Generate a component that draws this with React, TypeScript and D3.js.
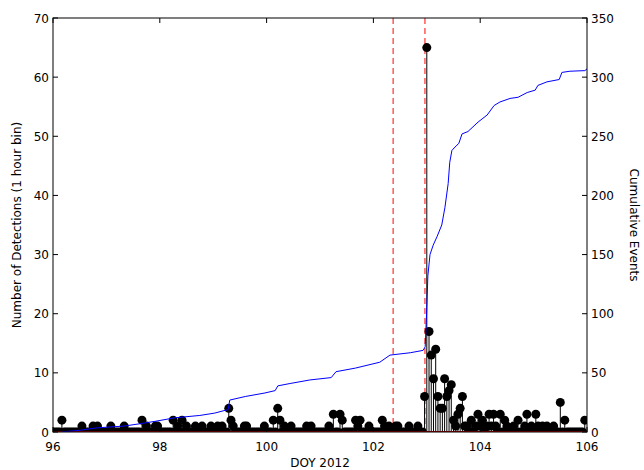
import React from "react";
import * as d3 from "d3";

// Hourly detection counts (hour index from DOY 96.0, value); all other bins are 0
const detHours = [4, 13, 18, 20, 26, 32, 40, 42, 46, 47, 54, 56, 58, 60, 64, 67, 71, 74, 76, 79, 80, 81, 86, 87, 95, 99, 101, 102, 104, 107, 114, 116, 124, 126, 129, 130, 136, 137, 138, 142, 148, 149, 151, 154, 155, 160, 164,
  167, 168, 169, 170, 171, 172, 173, 174, 175, 176, 177, 178, 179, 180, 181, 182, 183, 184, 185, 186, 188, 190, 191, 192, 193, 195, 196, 197, 198, 199, 201, 203, 204, 207, 209, 212, 213, 215, 217, 218, 220, 222, 225, 228, 230, 239];
const detValues = [2, 1, 1, 1, 1, 1, 2, 1, 1, 1, 2, 1, 2, 1, 1, 1, 1, 1, 1, 4, 2, 1, 1, 1, 1, 2, 4, 2, 1, 1, 1, 1, 1, 3, 3, 2, 2, 1, 2, 1, 2, 1, 1, 1, 1, 1, 1,
  6, 65, 17, 13, 9, 14, 6, 4, 4, 9, 6, 7, 8, 2, 1, 3, 4, 6, 1, 1, 2, 1, 3, 1, 2, 1, 3, 1, 3, 1, 3, 2, 1, 1, 2, 1, 3, 1, 3, 1, 1, 1, 1, 5, 2, 2];
const nBins = 240;

// Cumulative events curve
const cumDoy = [96.15, 96.51, 96.82, 97.33, 97.63, 97.91, 98.28, 98.75, 99.03, 99.28, 99.31, 99.60, 99.97, 100.16, 100.21, 100.44, 100.81, 101.21, 101.30, 101.66, 102.12, 102.31, 102.69, 102.93, 102.97, 103.00, 103.02, 103.06, 103.12, 103.19, 103.28, 103.34, 103.40, 103.43, 103.47, 103.53, 103.60, 103.66, 103.77, 103.96, 104.13, 104.26, 104.37, 104.56, 104.71, 104.88, 105.03, 105.08, 105.25, 105.48, 105.53, 105.68, 105.96, 106.0];
const cumValues = [0, 1.5, 3.5, 5, 7, 9, 12, 14, 16, 19, 27, 30, 33, 35, 39, 41, 44, 46, 51, 54, 59, 65, 67, 69, 72, 105, 132, 150, 158, 165, 175, 190, 210, 228, 238, 241, 244, 252, 254, 262, 268, 276, 279, 282, 283, 287, 289, 293, 296, 298, 304, 305, 305.5, 307];

const eventLines = [102.37, 102.965];
const xTicks = [96, 98, 100, 102, 104, 106];
const yLeftTicks = [0, 10, 20, 30, 40, 50, 60, 70];
const yRightTicks = [0, 50, 100, 150, 200, 250, 300, 350];

export default function App() {
  const W = 644, H = 470;
  const L = 53, R = 587, T = 18, B = 432;
  const x = d3.scaleLinear().domain([96, 106]).range([L, R]);
  const yL = d3.scaleLinear().domain([0, 70]).range([B, T]);
  const yR = d3.scaleLinear().domain([0, 350]).range([B, T]);
  const font = "DejaVu Sans, sans-serif";

  const bins = d3.range(nBins).map((h) => {
    const i = detHours.indexOf(h);
    return { doy: 96 + h / 24, v: i >= 0 ? detValues[i] : 0 };
  });
  const line = d3.line<number>().x((_, i) => x(cumDoy[i])).y((d) => yR(d));
  const tl = 5;
  const r = 4.5;

  return (
    <svg width={W} height={H} style={{ position: "absolute", left: 0, top: 0, background: "#fff" }}>
      <defs>
        <clipPath id="plot">
          <rect x={L} y={T} width={R - L} height={B - T} />
        </clipPath>
      </defs>
      <rect x={0} y={0} width={W} height={H} fill="#fff" />
      <g clipPath="url(#plot)">
        {eventLines.map((d, i) => (
          <line key={"e" + i} x1={x(d)} x2={x(d)} y1={T} y2={B} stroke="#ff3030" strokeOpacity={0.8} strokeWidth={1.5} strokeDasharray="6,4" />
        ))}
        {bins.map((b, i) => (
          <circle key={"m" + i} cx={x(b.doy)} cy={yL(b.v)} r={r} fill="#000" />
        ))}
        {bins.filter((b) => b.v > 0).map((b, i) => (
          <line key={"s" + i} x1={x(b.doy)} x2={x(b.doy)} y1={yL(0)} y2={yL(b.v)} stroke="#000" strokeWidth={1} />
        ))}
        <line x1={L} x2={R} y1={yL(0)} y2={yL(0)} stroke="#b00000" strokeWidth={2} />
        <path d={line(cumValues) || ""} fill="none" stroke="#0000ff" strokeWidth={1} />
      </g>
      <rect x={L} y={T} width={R - L} height={B - T} fill="none" stroke="#000" strokeWidth={1} />
      {xTicks.map((t) => (
        <g key={"x" + t}>
          <line x1={x(t)} x2={x(t)} y1={B} y2={B - tl} stroke="#000" />
          <line x1={x(t)} x2={x(t)} y1={T} y2={T + tl} stroke="#000" />
          <text x={x(t)} y={451} textAnchor="middle" fontFamily={font} fontSize={12}>{t}</text>
        </g>
      ))}
      {yLeftTicks.map((t) => (
        <g key={"yl" + t}>
          <line x1={L} x2={L + tl} y1={yL(t)} y2={yL(t)} stroke="#000" />
          <text x={L - 4} y={yL(t) + 4.5} textAnchor="end" fontFamily={font} fontSize={12}>{t}</text>
        </g>
      ))}
      {yRightTicks.map((t) => (
        <g key={"yr" + t}>
          <line x1={R} x2={R - tl} y1={yR(t)} y2={yR(t)} stroke="#000" />
          <text x={R + 4} y={yR(t) + 4.5} textAnchor="start" fontFamily={font} fontSize={12}>{t}</text>
        </g>
      ))}
      <text x={320} y={467} textAnchor="middle" fontFamily={font} fontSize={12}>DOY 2012</text>
      <text transform={`translate(21,${(T + B) / 2}) rotate(-90)`} textAnchor="middle" fontFamily={font} fontSize={12}>Number of Detections (1 hour bin)</text>
      <text transform={`translate(630,${(T + B) / 2}) rotate(90)`} textAnchor="middle" fontFamily={font} fontSize={12}>Cumulative Events</text>
    </svg>
  );
}
